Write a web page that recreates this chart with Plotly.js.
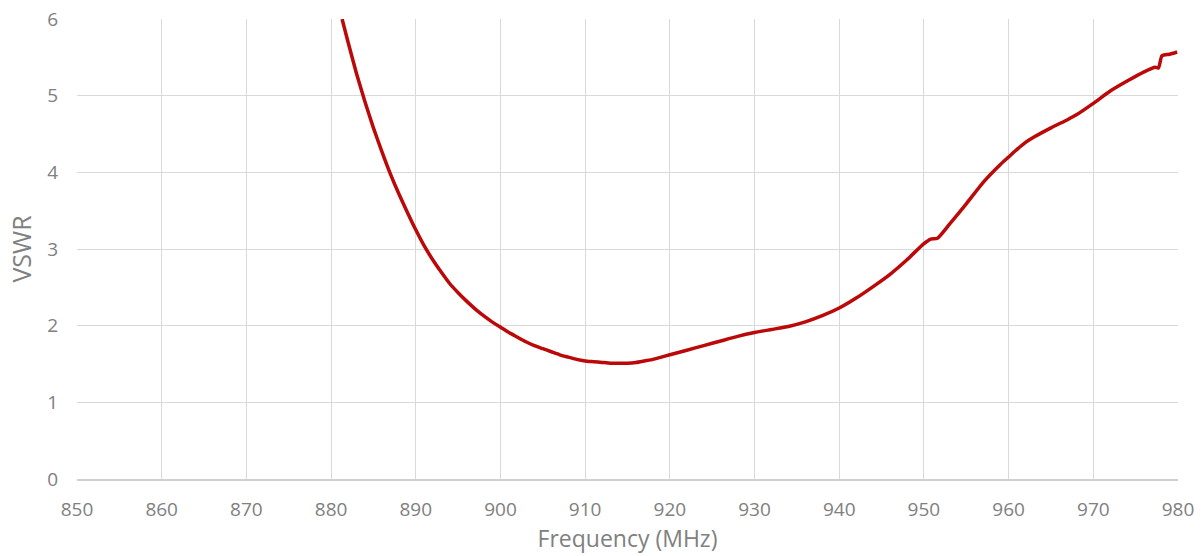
<!DOCTYPE html>
<html>
<head>
<meta charset="utf-8">
<script src="https://cdn.plot.ly/plotly-3.0.1.min.js"></script>
<style>html,body{margin:0;padding:0;background:#fff;}#chart{width:1203px;height:556px;}</style>
</head>
<body>
<div id="chart"></div>
<script>
const frequency = [881.3, 882, 883, 884, 885, 886, 887, 888, 889, 890, 891, 892, 893, 894, 895, 896, 897, 898, 899, 900,
  901, 902, 903, 904, 905, 906, 907, 908, 909, 910, 911, 912, 913, 914, 915, 916, 917, 918, 919, 920,
  922, 924, 926, 928, 930, 932, 934, 936, 938, 940, 942, 944, 946, 948, 950, 950.8, 951.6, 953, 955, 957,
  959, 960, 961, 962, 963, 965, 967, 968, 970, 972, 974, 976, 977.3, 977.7, 978.1, 979, 979.9];
const vswr = [6.00, 5.70, 5.29, 4.92, 4.58, 4.27, 3.98, 3.72, 3.48, 3.25, 3.04, 2.86, 2.70, 2.55, 2.43, 2.32, 2.22, 2.13, 2.05, 1.98,
  1.91, 1.85, 1.79, 1.74, 1.70, 1.66, 1.62, 1.59, 1.56, 1.54, 1.53, 1.52, 1.51, 1.51, 1.51, 1.52, 1.54, 1.56, 1.59, 1.62,
  1.68, 1.74, 1.80, 1.86, 1.91, 1.95, 1.99, 2.05, 2.13, 2.23, 2.36, 2.51, 2.67, 2.86, 3.07, 3.13, 3.14, 3.32, 3.59, 3.87,
  4.10, 4.20, 4.30, 4.39, 4.46, 4.58, 4.69, 4.75, 4.90, 5.06, 5.19, 5.31, 5.37, 5.36, 5.52, 5.54, 5.57];
const xTicks = [850, 860, 870, 880, 890, 900, 910, 920, 930, 940, 950, 960, 970, 980];
const yTicks = [0, 1, 2, 3, 4, 5, 6];

const font = "'Open Sans', 'Noto Sans', sans-serif";
Plotly.newPlot('chart', [{
  x: frequency, y: vswr, type: 'scatter', mode: 'lines',
  line: {color: '#bb0808', width: 3.5, shape: 'spline', smoothing: 0.5},
  hoverinfo: 'x+y', showlegend: false
}], {
  width: 1203, height: 556,
  margin: {l: 77, r: 25, t: 19, b: 77},
  paper_bgcolor: '#ffffff', plot_bgcolor: '#ffffff',
  font: {family: font, color: '#7f7f7f', size: 19},
  xaxis: {
    range: [850, 980], tickvals: xTicks, ticktext: xTicks.map(String),
    showgrid: true, gridcolor: '#d9d9d9', gridwidth: 1,
    showline: true, linecolor: '#d0d0d0', linewidth: 2,
    zeroline: false, ticks: '', ticklen: 0,
    tickfont: {family: font, size: 19, color: '#808080'},
    ticklabelstandoff: 12,
    title: {text: 'Frequency (MHz)', font: {family: font, size: 23, color: '#808080'}, standoff: 6}
  },
  yaxis: {
    range: [0, 6], tickvals: yTicks, ticktext: yTicks.map(String),
    showgrid: true, gridcolor: '#d9d9d9', gridwidth: 1,
    showline: false, zeroline: false, ticks: '',
    tickfont: {family: font, size: 19, color: '#808080'},
    ticklabelstandoff: 18,
    title: {text: 'VSWR', font: {family: font, size: 25, color: '#808080'}, standoff: 8}
  }
}, {displayModeBar: false, staticPlot: true});
</script>
</body>
</html>
